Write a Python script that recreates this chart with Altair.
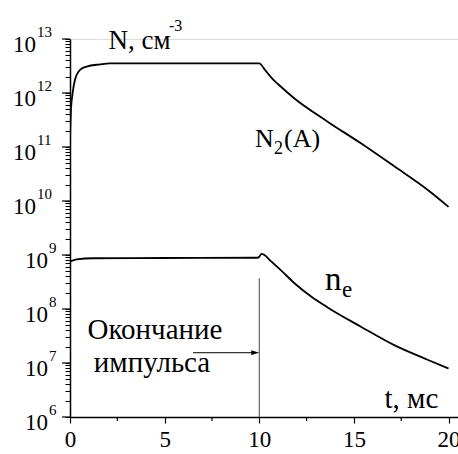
import altair as alt
import pandas as pd

# --- data ---
t_n2 = [0, 0.05, 0.14, 0.26, 0.53, 0.88, 1.58, 2.1, 4, 6, 8, 10, 10.3, 10.7, 11.0, 11.86, 13.61, 15.37, 17.13, 18.89, 20]
v_n2 = [1.26e11, 4.9e11, 1.0e12, 1.74e12, 2.69e12, 3.09e12, 3.39e12, 3.55e12, 3.55e12, 3.55e12, 3.55e12, 3.55e12,
        2.69e12, 1.82e12, 1.45e12, 7.9e11, 2.95e11, 1.17e11, 4.4e10, 1.62e10, 7.8e9]

t_ne = [0, 0.35, 1.23, 5, 9.9, 10.0, 10.12, 10.27, 10.63, 11.15, 11.86, 12.74, 13.61, 15.37, 17.13, 18.89, 20]
v_ne = [7.6e8, 8.3e8, 8.7e8, 8.8e8, 8.9e8, 9.3e8, 1.05e9, 1.0e9, 7.6e8, 5.2e8, 3.0e8, 1.7e8, 1.07e8, 4.7e7,
        2.14e7, 1.15e7, 7.9e6]

x_major = [0, 5, 10, 15, 20]
x_minor = [2.5, 7.5, 12.5, 17.5]
decades = [6, 7, 8, 9, 10, 11, 12, 13]
y_minor = [m * 10 ** k for k in range(6, 13) for m in range(1, 10)] + [1e13]

pulse_end_t = 10
pulse_line_top = 3.7e8
arrow_t0 = 6.5
arrow_v = 1.55e7

FONT = "Liberation Serif, Times New Roman, DejaVu Serif, serif"
W, H = 388, 378

xs = alt.Scale(domain=[0, 20.5], nice=False, zero=False)
ys = alt.Scale(type="log", domain=[1e6, 1e13], nice=False)

xaxis = alt.Axis(values=x_major, format="d", title="t, мс", titleFont=FONT,
                 titleFontSize=29, titleFontWeight="normal", titleColor="black",
                 titleX=314, titleY=-10, titleAlign="left", titleBaseline="alphabetic",
                 labelFont=FONT, labelFontSize=23, labelColor="black", labelPadding=5,
                 tickSize=6, tickColor="black", tickWidth=1.2,
                 domainColor="black", domainWidth=1.5, grid=False, labelFlush=False)
yaxis = alt.Axis(values=y_minor, labels=False, title="N, см", titleFont=FONT,
                 titleFontSize=27, titleFontWeight="normal", titleColor="black",
                 titleAngle=0, titleX=38, titleY=9, titleAlign="left",
                 titleBaseline="alphabetic",
                 tickSize=5, tickColor="black", tickWidth=1,
                 domainColor="black", domainWidth=1.5, grid=False)
X = alt.X("t:Q", scale=xs, axis=xaxis)
Y = alt.Y("v:Q", scale=ys, axis=yaxis)

df = pd.concat([
    pd.DataFrame({"t": t_n2, "v": v_n2, "s": "N2"}),
    pd.DataFrame({"t": t_ne, "v": v_ne, "s": "ne"}),
])

lines = alt.Chart(df).mark_line(color="black", strokeWidth=1.8, interpolate="monotone", clip=True).encode(
    x=X, y=Y, detail="s:N")

xminor = alt.Chart(pd.DataFrame({"t": x_minor})).mark_rule(color="black", strokeWidth=1.2).encode(
    x=X, y=alt.value(H), y2=alt.value(H + 4))

dec_df = pd.DataFrame({"k": decades})
dec_df["v"] = [10.0 ** k for k in decades]
dec_df["e"] = [str(k) for k in decades]
ymajor = alt.Chart(dec_df).mark_rule(color="black", strokeWidth=1.2).encode(
    y=Y, x=alt.value(0), x2=alt.value(-8))


def ylab(filt, xten, xexp):
    base = alt.Chart(dec_df).transform_filter(filt)
    ten = base.mark_text(font=FONT, fontSize=23, align="right", baseline="alphabetic", dy=13,
                         color="black").encode(y=Y, x=alt.value(xten), text=alt.value("10"))
    ex = base.mark_text(font=FONT, fontSize=15, align="left", baseline="alphabetic", dy=-2,
                        color="black").encode(y=Y, x=alt.value(xexp), text="e:N")
    return [ten, ex]


ylabels = ylab("datum.k >= 10", -34, -33) + ylab("datum.k < 10", -22, -21)

pulse = alt.Chart(pd.DataFrame({"t": [pulse_end_t], "v": [pulse_line_top], "v2": [1e6]})).mark_rule(
    color="#444444", strokeWidth=1).encode(x=X, y=Y, y2="v2:Q")
arrow = alt.Chart(pd.DataFrame({"t": [arrow_t0], "t2": [pulse_end_t - 0.3], "v": [arrow_v]})).mark_rule(
    color="black", strokeWidth=1).encode(x=X, x2="t2:Q", y=Y)
head = alt.Chart(pd.DataFrame({"t": [pulse_end_t], "v": [arrow_v]})).mark_point(
    shape="M -2 -0.6 L 0 0 L -2 0.6 Z", size=64, filled=True, color="black", opacity=1).encode(x=X, y=Y)


def txt(s, x, y, size, align="left"):
    return alt.Chart(pd.DataFrame({"a": [0]})).mark_text(
        text=s, font=FONT, fontSize=size, align=align, baseline="alphabetic", color="black").encode(
        x=alt.value(x), y=alt.value(y))


ox, oy = 70, 39
texts = [
    txt("-3", 169 - ox, 31 - oy, 16),
    txt("N", 255 - ox, 147 - oy, 26),
    txt("2", 274 - ox, 154 - oy, 18),
    txt("(A)", 284 - ox, 147 - oy, 26),
    txt("n", 325 - ox, 290 - oy, 33),
    txt("e", 342 - ox, 297 - oy, 23),
    txt("Окончание", 155 - ox, 339 - oy, 29, "center"),
    txt("импульса", 152 - ox, 372 - oy, 29, "center"),
]

chart = alt.layer(lines, xminor, ymajor, *ylabels, pulse, arrow, head, *texts).properties(
    width=W, height=H,
    autosize=alt.AutoSizeParams(type="none"),
    padding={"left": ox, "top": oy, "right": 0, "bottom": 37},
).configure_view(stroke=None).configure(background="white")

chart.save("out.html", embed_options={"renderer": "svg", "actions": False})
